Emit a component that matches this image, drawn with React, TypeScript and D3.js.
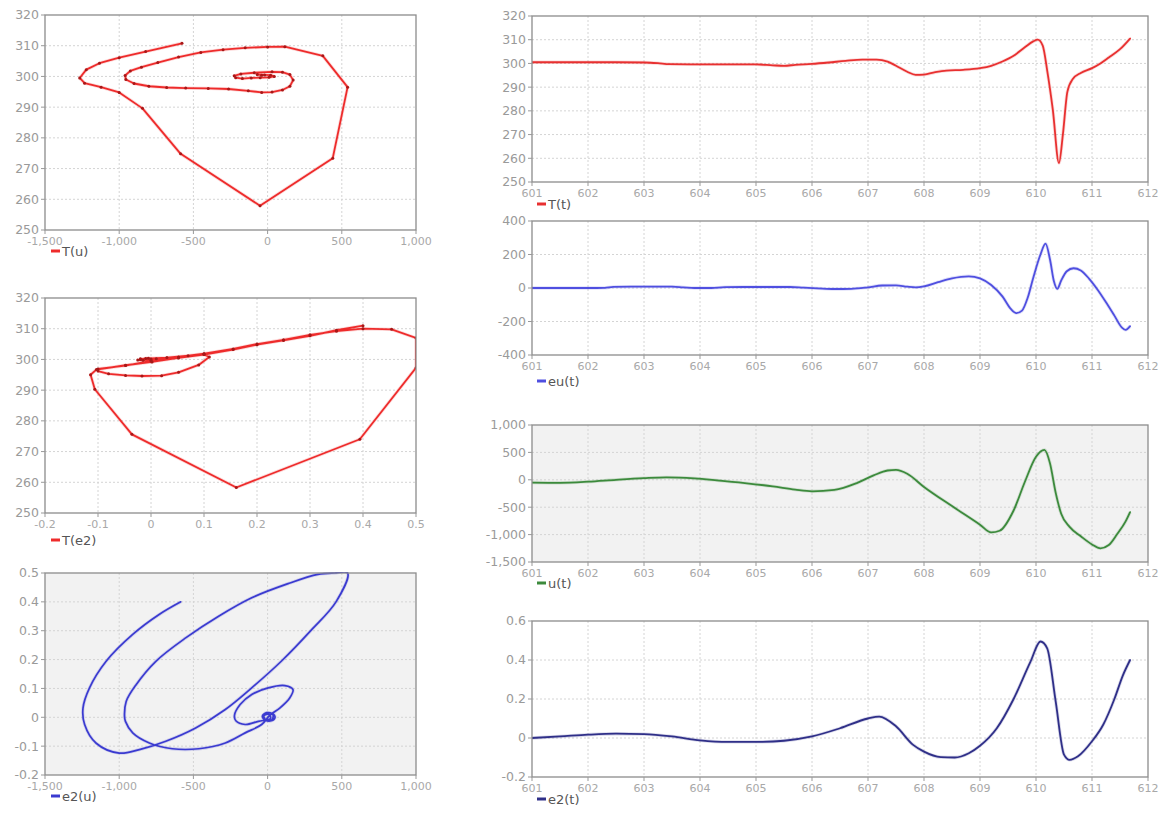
import React from "react";
import * as d3 from "d3";

// ---------- Data ----------
// Phase plot T(u): u values and T values in time order
const TU_U = [-40, -70, -20, 20, 45, 10, -50, -110, -170, -215, -225, -180, -90, 30,
  100, 150, 172, 150, 100, 30, -40, -130, -263, -400, -552, -680, -800, -900, -955, -960,
  -925, -850, -740, -600, -450, -300, -151, 0, 116, 372, 539, 439, -51, -586, -843, -1000,
  -1122, -1233, -1266, -1222, -1133, -1000, -822, -577];
const TU_T = [300.4, 300.6, 300.5, 300.4, 300.0, 299.7, 299.6, 299.5, 299.3, 299.6, 300.2, 300.8, 301.2, 301.5,
  301.4, 300.6, 298.8, 296.8, 295.6, 294.9, 294.8, 295.3, 295.9, 296.1, 296.2, 296.4, 296.8, 297.7, 299.0, 300.3,
  301.8, 303.0, 304.5, 306.3, 307.8, 308.7, 309.3, 309.6, 309.7, 306.7, 296.5, 273.4, 257.9, 274.8, 289.6, 294.8,
  296.5, 297.8, 299.5, 302.2, 304.3, 306.1, 308.1, 310.8];

// Phase plot T(e2)
const TE2_E2 = [-0.02, -0.01, 0.0, -0.015, -0.025, -0.005, 0.01, 0.0, -0.02,
  0.03, 0.07, 0.1, 0.11, 0.09, 0.052, 0.02, -0.017, -0.048, -0.08, -0.1, -0.1, -0.048, 0.0, 0.052,
  0.1, 0.155, 0.2, 0.25, 0.3, 0.35, 0.4, 0.454, 0.5, 0.5, 0.394, 0.161, -0.036, -0.106, -0.114,
  -0.103, -0.048, 0.002, 0.052, 0.1, 0.155, 0.2, 0.25, 0.3, 0.35, 0.4];
const TE2_T = [300.0, 300.3, 300.1, 299.7, 299.8, 300.4, 300.2, 299.8, 300.2,
  300.6, 301.2, 301.6, 300.8, 298.2, 295.8, 294.7, 294.6, 294.8, 295.3, 296.2, 296.9, 298.0, 299.5, 300.8,
  301.9, 303.4, 305.0, 306.4, 308.0, 309.2, 310.0, 309.8, 307.0, 297.3, 274.0, 258.3, 275.6, 290.3, 295.0,
  296.7, 298.1, 299.2, 300.5, 301.6, 303.2, 304.8, 306.2, 307.7, 309.5, 311.0];

// Phase plot e2(u)
const E2U_U = [0, 35, 50, 25, -15, -35, -5, 35, 30, -10, -25, 10, 20,
  -62, -151, -214, -223, -185, -107, 4, 116, 171, 149, 82, 15, -40, -151, -285, -463, -642, -797, -909,
  -958, -964, -953, -886, -753, -552, -330, -107, 138, 339, 450, 539, 461, 294, 94, -107, -285, -485,
  -686, -864, -1000, -1155, -1233, -1244, -1200, -1088, -909, -731, -585];
const E2U_E2 = [0, 0.012, 0.0, -0.012, -0.01, 0.004, 0.016, 0.01, -0.008, -0.01, 0.005, 0.01, -0.004,
  -0.014, -0.025, -0.012, 0.007, 0.044, 0.079, 0.102, 0.11, 0.096, 0.067, 0.032, 0.007, -0.025, -0.054,
  -0.089, -0.109, -0.109, -0.089, -0.054, -0.014, 0.003, 0.055, 0.113, 0.194, 0.275, 0.35, 0.414, 0.463,
  0.495, 0.5, 0.5, 0.4, 0.302, 0.195, 0.102, 0.027, -0.037, -0.083, -0.112, -0.124, -0.09, -0.025, 0.032,
  0.102, 0.194, 0.287, 0.356, 0.4];

// Time series T(t)
const T_TIME = [601, 601.5, 602, 602.5, 603, 603.25, 603.45, 604, 604.5, 605, 605.3, 605.5, 605.7, 606,
  606.3, 606.6, 606.9, 607.15, 607.35, 607.5, 607.7, 607.85, 608.0, 608.2, 608.4, 608.7, 609.0, 609.2,
  609.4, 609.6, 609.8, 609.95, 610.03, 610.12, 610.2, 610.3, 610.41, 610.48, 610.56, 610.66, 610.8, 611.0,
  611.15, 611.3, 611.5, 611.68];
const T_VALUES = [300.5, 300.5, 300.5, 300.5, 300.4, 300.1, 299.7, 299.6, 299.6, 299.6, 299.2, 299.0, 299.4, 299.8,
  300.4, 301.1, 301.6, 301.6, 300.8, 299.0, 296.5, 295.2, 295.3, 296.3, 297.0, 297.3, 298.0, 299.0,
  300.8, 303.2, 306.8, 309.3, 310.0, 307.5, 297.0, 280.5, 258.0, 270.0, 288.0, 293.5, 296.0, 298.0,
  300.0, 302.5, 306.0, 310.5];

// Time series eu(t)
const EU_TIME = [601, 602, 602.3, 602.45, 603, 603.5, 603.7, 603.9, 604.2, 604.45, 605, 605.6, 605.85, 606.1,
  606.4, 606.7, 607, 607.25, 607.5, 607.7, 607.85, 608.0, 608.25, 608.5, 608.8, 609.0, 609.2, 609.4, 609.55,
  609.65, 609.75, 609.85, 609.95, 610.08, 610.17, 610.25, 610.32, 610.38, 610.45, 610.55, 610.67, 610.8,
  610.95, 611.1, 611.25, 611.4, 611.53, 611.6, 611.68];
const EU_VALUES = [0, 0, 1, 7, 8, 8, 4, 0, 0, 5, 6, 6, 2, -2,
  -6, -5, 4, 15, 16, 8, 4, 10, 35, 58, 70, 58, 18, -50, -125,
  -150, -135, -60, 60, 200, 265, 170, 40, -5, 45, 100, 118, 105,
  55, -10, -85, -165, -235, -250, -228];

// Time series u(t)
const U_TIME = [601, 601.5, 602, 602.5, 603, 603.4, 603.9, 604.3, 604.8, 605.3, 605.7, 606, 606.4, 606.8,
  607.1, 607.35, 607.5, 607.7, 608.0, 608.5, 609.0, 609.2, 609.35, 609.6, 609.8, 610.0, 610.15, 610.25,
  610.35, 610.45, 610.6, 610.8, 611.0, 611.15, 611.3, 611.45, 611.6, 611.68];
const U_VALUES = [-50, -55, -35, 0, 30, 45, 25, -10, -60, -120, -180, -210, -185, -60,
  80, 170, 180, 110, -130, -480, -820, -960, -930, -560, -40, 420, 545, 300,
  -230, -620, -860, -1030, -1180, -1250, -1190, -990, -760, -590];

// Time series e2(t)
const E2_TIME = [601, 601.5, 602, 602.5, 603, 603.5, 604, 604.5, 605, 605.5, 606, 606.5, 607, 607.2, 607.5,
  607.8, 608.0, 608.3, 608.55, 608.8, 609.0, 609.3, 609.6, 609.9, 610.08, 610.2, 610.35, 610.5, 610.6,
  610.75, 611.0, 611.2, 611.4, 611.55, 611.68];
const E2_VALUES = [0.0, 0.008, 0.017, 0.022, 0.02, 0.008, -0.012, -0.02, -0.02, -0.014, 0.008, 0.05, 0.1, 0.11, 0.06,
  -0.034, -0.07, -0.098, -0.1, -0.078, -0.04, 0.05, 0.2, 0.39, 0.495, 0.46, 0.19, -0.085, -0.112,
  -0.094, -0.017, 0.068, 0.2, 0.32, 0.4];

// Ticks
const U_TICKS = [-1500, -1000, -500, 0, 500, 1000];
const E2X_TICKS = [-0.2, -0.1, 0, 0.1, 0.2, 0.3, 0.4, 0.5];
const T_TICKS = [250, 260, 270, 280, 290, 300, 310, 320];
const E2Y_TICKS = [-0.2, -0.1, 0, 0.1, 0.2, 0.3, 0.4, 0.5];
const TIME_TICKS = [601, 602, 603, 604, 605, 606, 607, 608, 609, 610, 611, 612];
const EU_TICKS = [-400, -200, 0, 200, 400];
const UY_TICKS = [-1500, -1000, -500, 0, 500, 1000];
const E2T_TICKS = [-0.2, 0, 0.2, 0.4, 0.6];

// ---------- helpers ----------
const fmtInt = (v: number) => d3.format(",")(v).replace("\u2212", "-");
const fmtDec = (v: number) => (Math.abs(v) < 1e-9 ? "0" : String(Math.round(v * 10) / 10));

const FONT = "'DejaVu Sans', Verdana, sans-serif";

type PanelProps = {
  id: string;
  x0: number; x1: number; y0: number; y1: number;
  xTicks: number[]; yTicks: number[];
  fmtX: (v: number) => string; fmtY: (v: number) => string;
  bg: string;
  xs: number[]; ys: number[];
  color: string; lw: number;
  curve: any;
  markers?: string;
  legend: string; legendX: number; legendY: number;
};

function Panel(p: PanelProps) {
  const sx = d3.scaleLinear().domain([p.xTicks[0], p.xTicks[p.xTicks.length - 1]]).range([p.x0, p.x1]);
  const sy = d3.scaleLinear().domain([p.yTicks[0], p.yTicks[p.yTicks.length - 1]]).range([p.y1, p.y0]);
  const pts: [number, number][] = p.xs.map((v, i) => [v, p.ys[i]]);
  const line = d3.line<[number, number]>().x((d) => sx(d[0])).y((d) => sy(d[1])).curve(p.curve);
  const path = line(pts) || "";
  const grid = "#d4d4d4";
  return (
    <g>
      <defs>
        <clipPath id={p.id}>
          <rect x={p.x0} y={p.y0 - 1} width={p.x1 - p.x0} height={p.y1 - p.y0 + 2} />
        </clipPath>
      </defs>
      <rect x={p.x0} y={p.y0} width={p.x1 - p.x0} height={p.y1 - p.y0} fill={p.bg} />
      {p.xTicks.slice(1, -1).map((t) => (
        <line key={"gx" + t} x1={sx(t)} x2={sx(t)} y1={p.y0} y2={p.y1} stroke={grid} strokeWidth={1} strokeDasharray="2,2" />
      ))}
      {p.yTicks.slice(1, -1).map((t) => (
        <line key={"gy" + t} x1={p.x0} x2={p.x1} y1={sy(t)} y2={sy(t)} stroke={grid} strokeWidth={1} strokeDasharray="2,2" />
      ))}
      <g clipPath={`url(#${p.id})`}>
        <path d={path} fill="none" stroke={p.color} strokeWidth={p.lw + 1.6} strokeOpacity={0.18} strokeLinejoin="round" />
        <path d={path} fill="none" stroke={p.color} strokeWidth={p.lw} strokeLinejoin="round" strokeLinecap="round" />
        {p.markers &&
          pts.map((d, i) => <circle key={i} cx={sx(d[0])} cy={sy(d[1])} r={1.5} fill={p.markers} />)}
      </g>
      <rect x={p.x0} y={p.y0} width={p.x1 - p.x0} height={p.y1 - p.y0} fill="none" stroke="#8c8c8c" strokeWidth={1.3} />
      {p.yTicks.map((t) => (
        <g key={"yt" + t}>
          <line x1={p.x0 - 4} x2={p.x0} y1={sy(t)} y2={sy(t)} stroke="#999" />
          <text x={p.x0 - 6} y={sy(t)} dy="0.35em" textAnchor="end" fontSize={12.5} fill="#9a9a9a" fontFamily={FONT}>
            {p.fmtY(t)}
          </text>
        </g>
      ))}
      {p.xTicks.map((t) => (
        <g key={"xt" + t}>
          <line x1={sx(t)} x2={sx(t)} y1={p.y1} y2={p.y1 + 4} stroke="#999" />
          <text x={sx(t)} y={p.y1 + 15} textAnchor="middle" fontSize={11} fill="#a8a8a8" fontFamily={FONT}>
            {p.fmtX(t)}
          </text>
        </g>
      ))}
      <line x1={p.legendX} x2={p.legendX + 9} y1={p.legendY} y2={p.legendY} stroke={p.color} strokeWidth={3} />
      <text x={p.legendX + 11} y={p.legendY} dy="0.35em" fontSize={13} fill="#555" fontFamily={FONT}>
        {p.legend}
      </text>
    </g>
  );
}

export default function App() {
  const smooth = d3.curveCatmullRom.alpha(0.5);
  const mono = d3.curveMonotoneX;
  const LX0 = 45, LX1 = 416, RX0 = 532, RX1 = 1148;
  return (
    <svg width={1169} height={814} style={{ position: "absolute", left: 0, top: 0, background: "#fff" }}>
      <Panel id="c1" x0={LX0} x1={LX1} y0={15} y1={230} xTicks={U_TICKS} yTicks={T_TICKS} fmtX={fmtInt} fmtY={fmtInt}
        bg="#fff" xs={TU_U} ys={TU_T} color="#ee2b2b" lw={1.8} curve={d3.curveLinear} markers="#a81818"
        legend="T(u)" legendX={51} legendY={251} />
      <Panel id="c2" x0={LX0} x1={LX1} y0={298} y1={513} xTicks={E2X_TICKS} yTicks={T_TICKS} fmtX={fmtDec} fmtY={fmtInt}
        bg="#fff" xs={TE2_E2} ys={TE2_T} color="#ee2b2b" lw={1.8} curve={d3.curveLinear} markers="#a81818"
        legend="T(e2)" legendX={51} legendY={540} />
      <Panel id="c3" x0={LX0} x1={LX1} y0={573} y1={775} xTicks={U_TICKS} yTicks={E2Y_TICKS} fmtX={fmtInt} fmtY={fmtDec}
        bg="#f2f2f2" xs={E2U_U} ys={E2U_E2} color="#3a3ad0" lw={1.7} curve={smooth}
        legend="e2(u)" legendX={51} legendY={796} />
      <Panel id="c4" x0={RX0} x1={RX1} y0={16} y1={182} xTicks={TIME_TICKS} yTicks={T_TICKS} fmtX={fmtInt} fmtY={fmtInt}
        bg="#fff" xs={T_TIME} ys={T_VALUES} color="#e83030" lw={1.8} curve={mono}
        legend="T(t)" legendX={537} legendY={204} />
      <Panel id="c5" x0={RX0} x1={RX1} y0={221} y1={355} xTicks={TIME_TICKS} yTicks={EU_TICKS} fmtX={fmtInt} fmtY={fmtInt}
        bg="#fff" xs={EU_TIME} ys={EU_VALUES} color="#4f4fe0" lw={1.8} curve={mono}
        legend="eu(t)" legendX={537} legendY={381} />
      <Panel id="c6" x0={RX0} x1={RX1} y0={425} y1={562} xTicks={TIME_TICKS} yTicks={UY_TICKS} fmtX={fmtInt} fmtY={fmtInt}
        bg="#f2f2f2" xs={U_TIME} ys={U_VALUES} color="#3c8a3c" lw={1.8} curve={mono}
        legend="u(t)" legendX={537} legendY={583} />
      <Panel id="c7" x0={RX0} x1={RX1} y0={621} y1={777} xTicks={TIME_TICKS} yTicks={E2T_TICKS} fmtX={fmtInt} fmtY={fmtDec}
        bg="#fff" xs={E2_TIME} ys={E2_VALUES} color="#2f2f88" lw={1.8} curve={mono}
        legend="e2(t)" legendX={537} legendY={799} />
    </svg>
  );
}
